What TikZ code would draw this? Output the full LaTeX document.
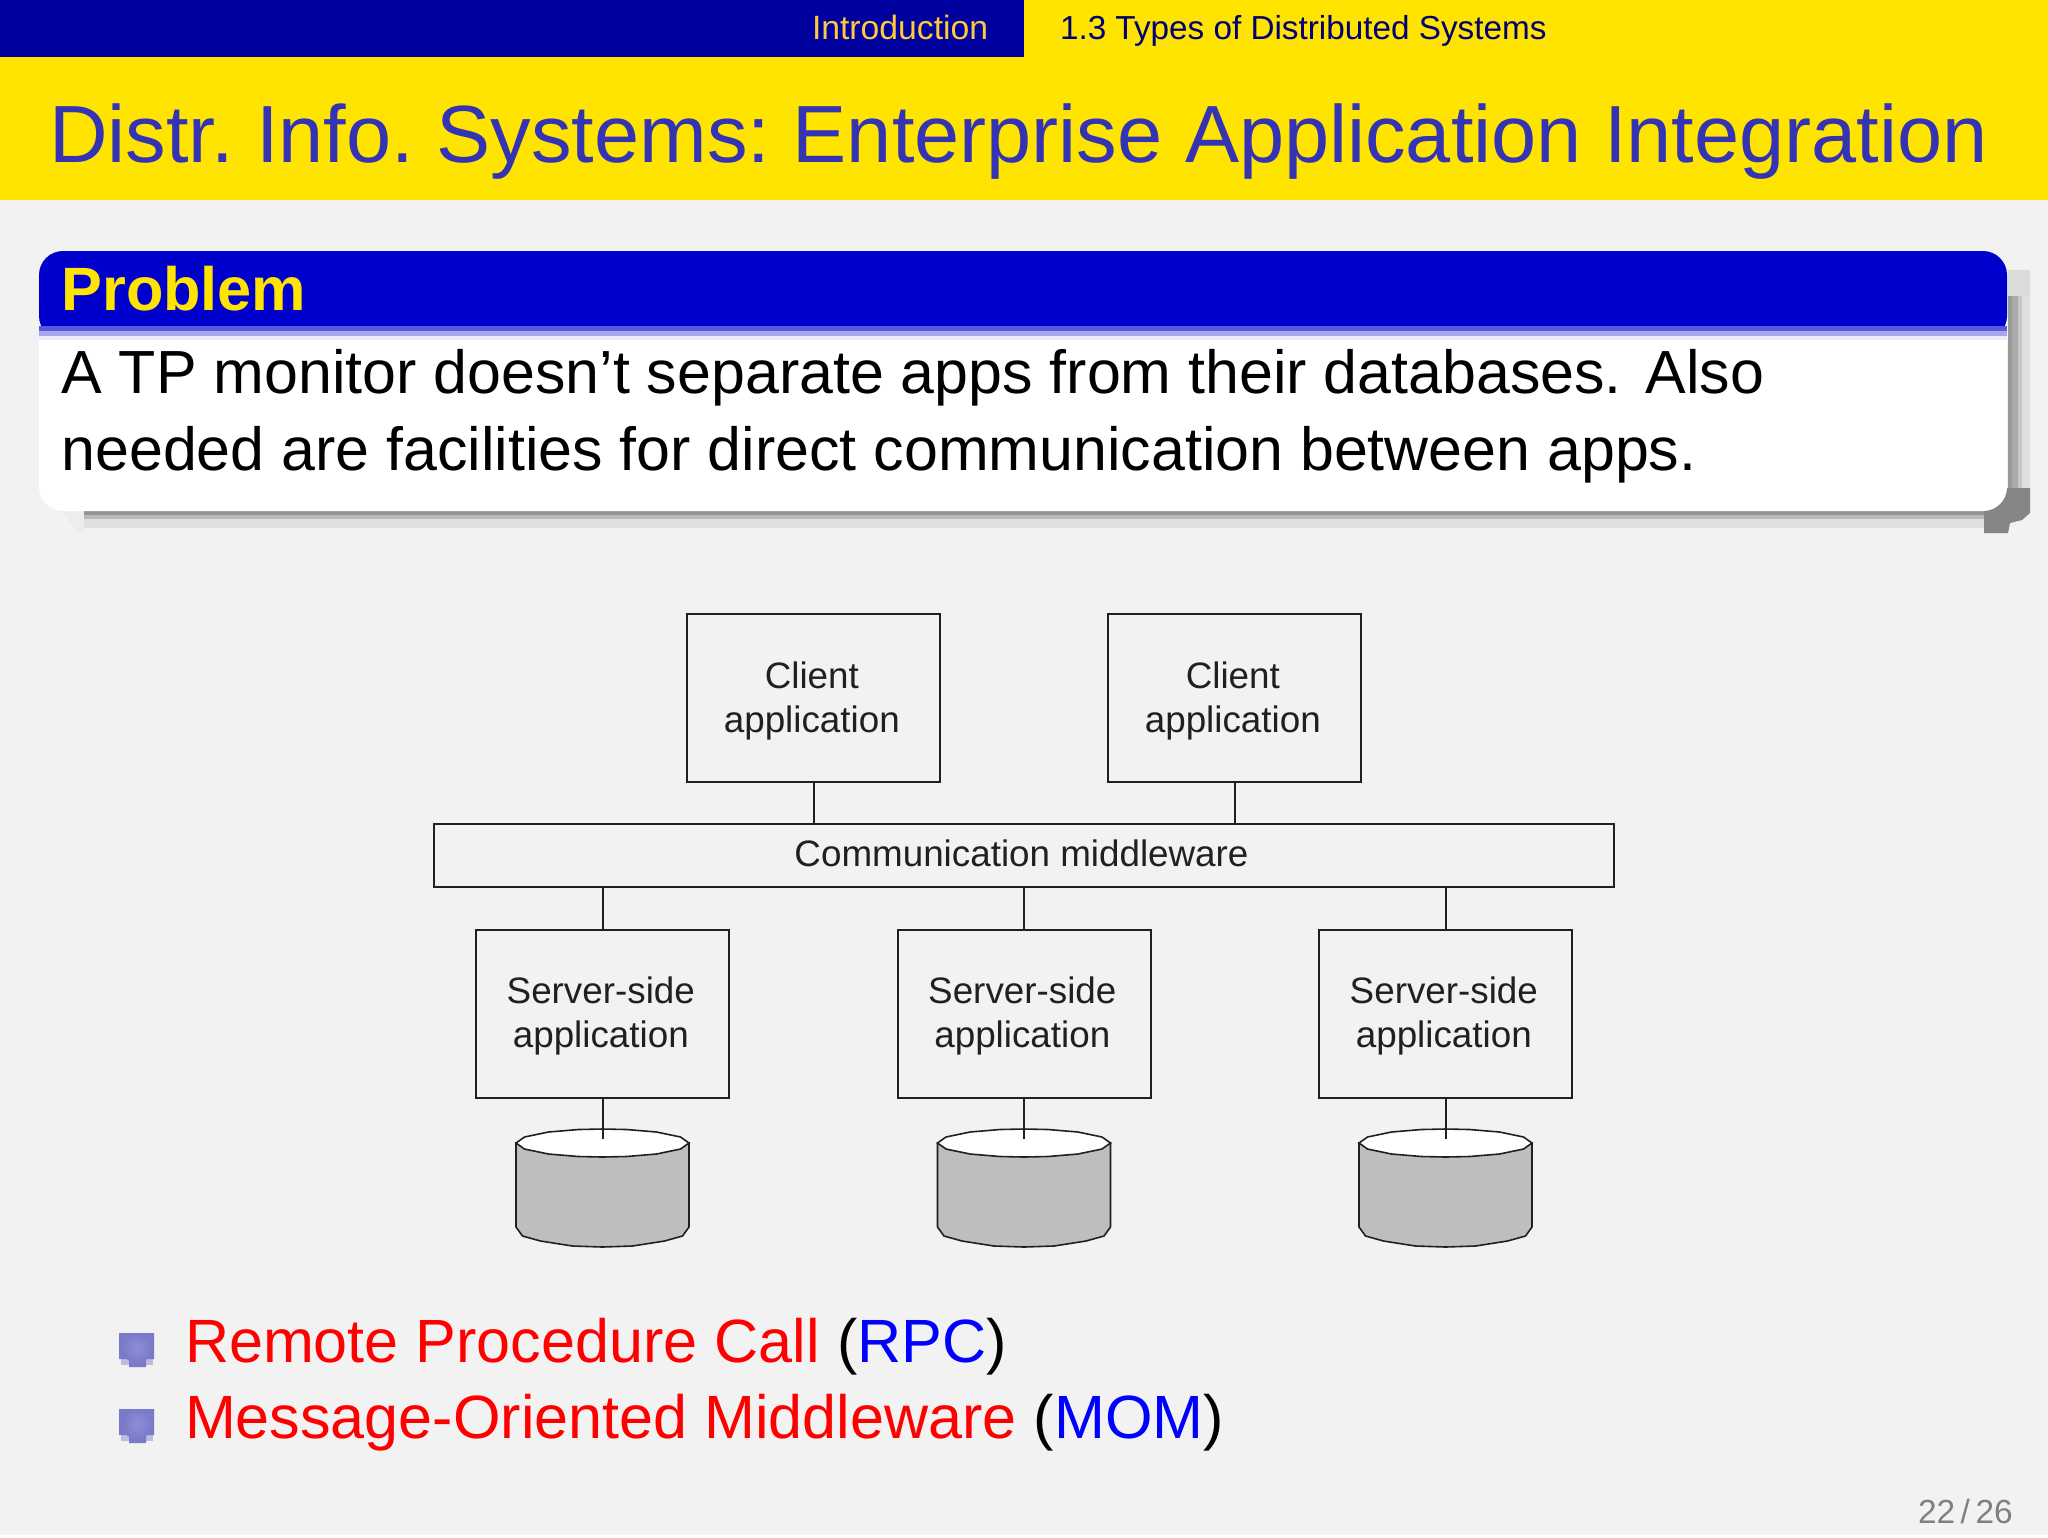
\documentclass[tikz,border=0pt]{standalone}
\usepackage{fontspec}
\setmainfont{Liberation Sans}
\AtBeginDocument{\frenchspacing}
\definecolor{pagebg}{HTML}{F2F2F2}
\definecolor{barblue}{HTML}{00009E}
\definecolor{headyellow}{HTML}{FFE400}
\definecolor{titleblue}{HTML}{3333B3}
\definecolor{blockblue}{HTML}{0000CC}
\definecolor{introorange}{HTML}{FFC93C}
\definecolor{sectionink}{HTML}{000070}
\definecolor{figink}{HTML}{231F20}
\definecolor{dbgrey}{HTML}{BCBEC0}
\definecolor{bulletblue}{HTML}{7A7ACB}
\definecolor{bulletglow}{HTML}{8E8ED6}
\definecolor{numgrey}{HTML}{808080}
\tikzset{
  x=0.5pt,y=-0.5pt,
  basetext/.style={anchor=base west,inner sep=0pt,outer sep=0pt},
  appbox/.style={draw=figink,line width=1pt,minimum width=126.5pt,minimum height=84pt,inner sep=0pt,outer sep=0pt,
    align=center,text=figink,font=\fontsize{18.4pt}{22pt}\selectfont},
  busbox/.style={appbox,minimum width=590pt,minimum height=31.5pt},
  wire/.style={draw=figink,line width=1pt},
  dbbody/.style={draw=figink,line width=0.8pt,fill=dbgrey},
  dbtop/.style={draw=figink,line width=0.8pt,fill=white},
  bodytext/.style={basetext,font=\fontsize{30.45pt}{36pt}\selectfont},
  listtext/.style={basetext,font=\fontsize{30.55pt}{36pt}\selectfont},
}
\newcommand{\applabel}[1]{\rule{0pt}{16pt}#1\kern1.7pt\\application\kern1.7pt}
\newcommand{\dbstack}[2]{%
  \begin{scope}[shift={(#1,0)}]
    \path[dbbody] (-86.5,1143) -- (-86.5,1227) -- (-80,1236) -- (-62,1241) -- (-30,1246) -- (0,1247)
      -- (30,1246) -- (62,1241) -- (80,1236) -- (86.5,1227) -- (86.5,1143) -- cycle;
    \path[dbtop] (-86.5,1143) -- (-78,1137) -- (-54,1132) -- (-24,1129.5) -- (0,1129) -- (24,1129.5) -- (54,1132)
      -- (78,1137) -- (86.5,1143) -- (78,1149) -- (54,1154) -- (24,1156.5) -- (0,1157) -- (-24,1156.5) -- (-54,1154) -- (-78,1149) -- cycle;
    \coordinate (#2) at (0,1139);
  \end{scope}%
}
\newcommand{\bulletmark}[1]{%
  \begin{scope}[shift={(0,#1)}]
    \fill[bulletblue!45!pagebg] (121,1359) rectangle (153,1365);
    \fill[bulletblue] (119,1333) -- (154,1333) -- (154,1359) -- (146,1359) -- (146,1367) -- (129,1367) -- (129,1359) -- (119,1359) -- cycle;
    \shade[inner color=bulletglow,outer color=bulletblue] (137,1348) circle[radius=15];
  \end{scope}%
}
\begin{document}
\begin{tikzpicture}
\useasboundingbox (0,0) rectangle (2048,1537);
\fill[white] (0,0) rectangle (2048,1537);
\fill[pagebg] (0,0) rectangle (2048,1535);
% headline
\fill[headyellow] (0,0) rectangle (2048,200);
\fill[barblue] (0,0) rectangle (1024,57);
\node[basetext,text=introorange,font=\fontsize{16.85pt}{20pt}\selectfont] (intro) at (812,39) {Introduction};
\node[basetext,text=sectionink,font=\fontsize{16.64pt}{20pt}\selectfont] (section) at (1060,39) {1.3 Types of Distributed Systems};
\node[basetext,text=titleblue,font=\fontsize{40.56pt}{48pt}\selectfont] (title) at (49,162) {Distr. Info. Systems: Enterprise Application Integration};
% block shadow
\fill[black!14] (2008,270) rectangle (2030,296);
\fill[black!12] (2008,296) rectangle (2030,500);
\fill[black!22] (2008,296) rectangle (2022,500);
\fill[black!33] (2008,296) rectangle (2018,500);
\fill[black!40] (2008,296) rectangle (2012,500);
\fill[black!7] (61,511) -- (84,511) -- (84,532) -- (76,530) -- cycle;
\fill[black!12] (84,511) rectangle (1990,528);
\fill[black!28] (84,511) rectangle (1990,519);
\fill[black!42] (84,511) rectangle (1990,515);
\fill[black!48] (1984,488) -- (2030,488) -- (2030,513) -- (2022,520) -- (2010,523) -- (2008,533) -- (1984,533) -- cycle;
% block
\fill[white,rounded corners=12pt] (39,300) -- (39,511) -- (2007,511) -- (2007,300) -- cycle;
\fill[blockblue,rounded corners=12pt] (39,340) -- (39,251) -- (2007,251) -- (2007,340) -- cycle;
\fill[white] (39,326) rectangle (2007,350);
\fill[blockblue!65!white] (39,326) rectangle (2007,331);
\fill[blockblue!35!white] (39,331) rectangle (2007,336);
\fill[blockblue!8!white] (39,336) rectangle (2007,340);
\node[basetext,text=headyellow,font=\fontsize{30.6pt}{36pt}\bfseries\selectfont] (problem) at (61.5,310) {Problem};
\node[bodytext,text=black] (line1) at (61.5,393) {A TP monitor doesn’t separate apps from their databases.\ \hspace{3.5pt}Also};
\node[bodytext,text=black] (line2) at (61.5,470) {needed are facilities for direct communication between apps.};
% figure
\node[appbox] (c1) at (813.5,698) {\applabel{Client}};
\node[appbox] (c2) at (1234.5,698) {\applabel{Client}};
\node[busbox] (mw) at (1023.5,855.5) {\rule[-2.6pt]{0pt}{2.6pt}Communication middleware\kern2pt};
\node[appbox] (s1) at (602.5,1013.5) {\applabel{Server-side}};
\node[appbox] (s2) at (1024,1013.5) {\applabel{Server-side}};
\node[appbox] (s3) at (1445.5,1013.5) {\applabel{Server-side}};
\dbstack{602.5}{d1}
\dbstack{1024}{d2}
\dbstack{1445.5}{d3}
\draw[wire] (c1.south) -- (c1.south |- mw.north);
\draw[wire] (c2.south) -- (c2.south |- mw.north);
\draw[wire] (s1.north) -- (s1.north |- mw.south);
\draw[wire] (s2.north) -- (s2.north |- mw.south);
\draw[wire] (s3.north) -- (s3.north |- mw.south);
\draw[wire] (s1.south) -- (d1);
\draw[wire] (s2.south) -- (d2);
\draw[wire] (s3.south) -- (d3);
% list
\bulletmark{0}
\bulletmark{76}
\node[listtext] (rpc) at (185,1362) {\textcolor{red}{Remote Procedure Call} (\textcolor{blue}{RPC})};
\node[listtext] (mom) at (185,1438) {\textcolor{red}{Message-Oriented Middleware} (\textcolor{blue}{MOM})};
\node[basetext,text=numgrey,font=\fontsize{16.7pt}{20pt}\selectfont] (pg) at (1918,1523) {22\,/\,26};
\end{tikzpicture}
\end{document}
